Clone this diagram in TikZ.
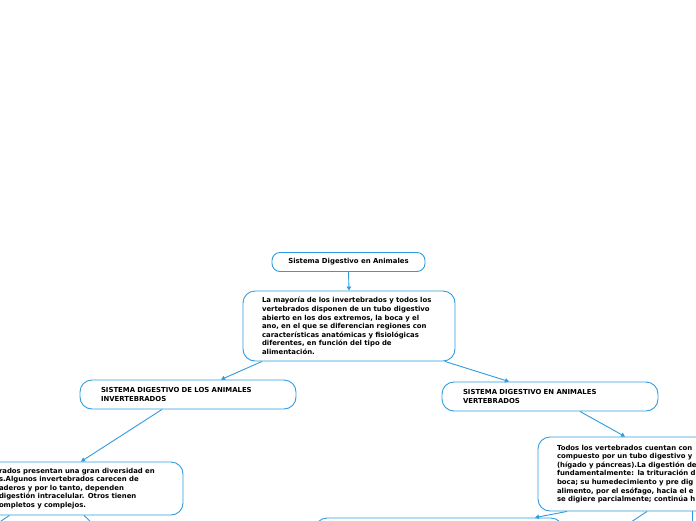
\documentclass[tikz,border=0pt]{standalone}
\usepackage{fontspec}
\setmainfont{DejaVu Sans}
\usetikzlibrary{arrows.meta}

\definecolor{azul}{RGB}{47,155,224}

\tikzset{
  caja/.style={draw=azul, line width=0.9pt, rounded corners=12pt, inner sep=0pt,
    align=left, font=\bfseries\fontsize{6.9}{8.6}\selectfont},
  flecha/.style={draw=azul, line width=0.9pt, -{Triangle[length=4pt,width=4.5pt]}},
}

\begin{document}
\begin{tikzpicture}[x=1pt, y=-1pt]

% Marco
\useasboundingbox (0,0) rectangle (696,520);
\clip (0,0) rectangle (696,520);

% Nodos
\node[caja, rounded corners=8pt, align=center, minimum width=153pt, minimum height=19pt]
  (titulo) at (348.5,262) {Sistema Digestivo en Animales};

\node[caja, minimum width=212pt, minimum height=70pt, text width=174pt]
  (principal) at (349,326) {La mayoría de los invertebrados y todos los\\
  vertebrados disponen de un tubo digestivo\\
  abierto en los dos extremos, la boca y el\\
  ano, en el que se diferencian regiones con\\
  características anatómicas y fisiológicas\\
  diferentes, en función del tipo de\\
  alimentación.};

\node[caja, minimum width=216pt, minimum height=29pt, text width=174pt]
  (invert) at (188,394.5) {SISTEMA DIGESTIVO DE LOS ANIMALES\\ INVERTEBRADOS};

\node[caja, minimum width=216pt, minimum height=29pt, text width=174pt]
  (vert) at (550,396.5) {SISTEMA DIGESTIVO EN ANIMALES\\ VERTEBRADOS};

\node[caja, minimum width=203pt, minimum height=53pt, text width=165pt]
  (izq) at (81.5,488.5) {rados presentan una gran diversidad en\\
  s.Algunos invertebrados carecen de\\
  aderos y por lo tanto, dependen\\
  digestión intracelular. Otros tienen\\
  ompletos y complejos.};

\node[caja, minimum width=222pt, minimum height=74pt, text width=184pt]
  (der) at (649,474) {Todos los vertebrados cuentan con\\
  compuesto por un tubo digestivo y\\
  (hígado y páncreas).La digestión de\\
  fundamentalmente: la trituración d\\
  boca; su humedecimiento y pre dig\\
  alimento, por el esófago, hacia el e\\
  se digiere parcialmente; continúa h};

\node[caja, minimum width=248pt, minimum height=44pt] (abajo) at (439,540) {};

% Extremos fuera del marco
\coordinate (izqA) at (-8,527);
\coordinate (izqB) at (96,527);
\coordinate (derA) at (619,530);
\coordinate (derB) at (692,540);

% Conectores
\draw[flecha] (titulo.south) -- (principal.north);
\draw[flecha] ([xshift=-87pt]principal.south) -- ([xshift=33pt]invert.north);
\draw[flecha] ([xshift=96pt]principal.south) -- ([xshift=-41pt]vert.north);
\draw[flecha] ([xshift=-26pt]invert.south) -- ([xshift=-0.5pt]izq.north);
\draw[flecha] ([xshift=30pt]vert.south) -- ([xshift=-24pt]der.north);
\draw[flecha] ([xshift=-82pt]der.south) -- ([xshift=96pt]abajo.north);
\draw[flecha] ([xshift=-2pt]der.south) -- (derA);
\draw[flecha] ([xshift=43pt]der.south) -- (derB);
\draw[flecha] ([xshift=-72pt]izq.south) -- (izqA);
\draw[flecha] ([xshift=2.5pt]izq.south) -- (izqB);

\end{tikzpicture}
\end{document}
